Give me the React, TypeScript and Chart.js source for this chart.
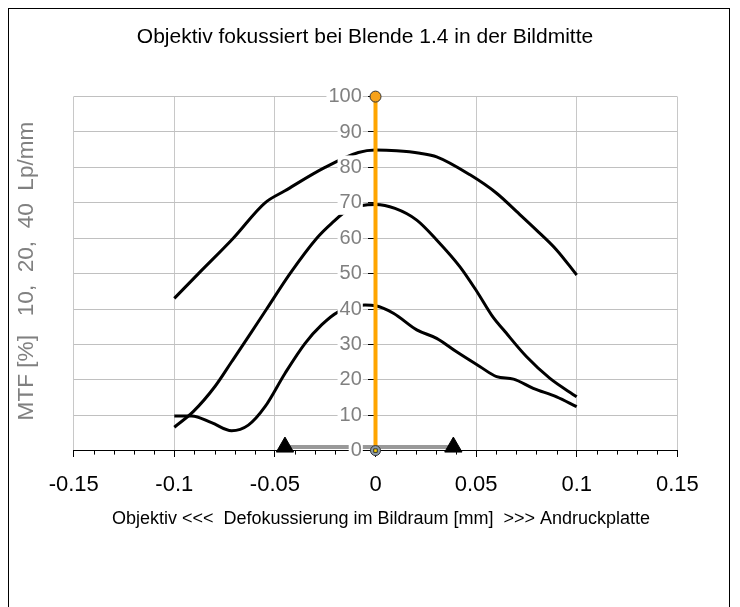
import React, { useEffect, useRef } from "react";
import { Chart, registerables } from "chart.js";

Chart.register(...registerables);

const titleText = "Objektiv fokussiert bei Blende 1.4 in der Bildmitte";
const xTitleText = "Objektiv <<<  Defokussierung im Bildraum [mm]  >>> Andruckplatte";
const yTitleText = "MTF [%]   10,  20,  40  Lp/mm";

const xMin = -0.15;
const xMax = 0.15;
const xStep = 0.05;
const xMinorStep = 0.01;
const yMin = 0;
const yMax = 100;
const yStep = 10;
// y tick labels sit slightly left of the y axis at x = 0
const yLabelAxisX = -0.0068;

// 10 Lp/mm
const topX = [-0.1, -0.088, -0.0707, -0.0549, -0.045, -0.0251, -0.0085, 0, 0.0105, 0.0221, 0.0304, 0.047, 0.0602, 0.0702, 0.08, 0.09, 0.1];
const topY = [43.0, 50.0, 60.0, 70.0, 73.4, 80.0, 84.2, 84.9, 84.7, 84.0, 83.0, 77.9, 72.7, 67.5, 62.3, 56.7, 49.6];

// 20 Lp/mm
const midX = [-0.1, -0.0906, -0.0798, -0.0715, -0.0615, -0.0541, -0.0425, -0.0292, -0.0218, -0.0135, 0, 0.0097, 0.0205, 0.0304, 0.042, 0.0503, 0.0585, 0.0635, 0.0751, 0.0867, 0.1];
const midY = [6.6, 11.0, 18.1, 25.1, 33.6, 40.0, 50.0, 60.0, 64.2, 68.0, 69.5, 68.4, 65.1, 59.5, 51.9, 45.0, 37.6, 34.2, 26.5, 20.4, 15.2];

// 40 Lp/mm
const botX = [-0.1, -0.0914, -0.0815, -0.0715, -0.0632, -0.0549, -0.045, -0.035, -0.0268, -0.0185, -0.0052, 0, 0.0089, 0.0205, 0.0304, 0.0403, 0.052, 0.0602, 0.0686, 0.0784, 0.09, 0.1];
const botY = [9.8, 9.8, 7.9, 5.6, 7.2, 12.4, 21.8, 30.3, 35.5, 39.2, 41.1, 40.9, 38.8, 34.1, 31.7, 27.9, 23.7, 20.9, 20.2, 17.6, 15.2, 12.4];

// focus marker (orange vertical)
const focusX = [0, 0];
const focusY = [0, 100];

// depth of focus range
const rangeX = [-0.045, 0.0387];
const rangeY = [1, 1];

const FONT = "'Liberation Sans', Arial, sans-serif";

const toPts = (xs: number[], ys: number[]) => xs.map((x, i) => ({ x, y: ys[i] }));

const textPlugin = {
  id: "customText",
  beforeDatasetsDraw(chart: any) {
    const ctx = chart.ctx;
    const xs = chart.scales.x;
    const ys = chart.scales.y;
    const y0 = ys.getPixelForValue(0);
    ctx.save();
    ctx.strokeStyle = "#000";
    ctx.lineWidth = 1;
    const n = Math.round((xMax - xMin) / xMinorStep);
    const per = Math.round(xStep / xMinorStep);
    for (let i = 0; i <= n; i++) {
      if (i % per === 0) continue;
      const v = xMin + i * xMinorStep;
      const px = Math.round(xs.getPixelForValue(v)) + 0.5;
      ctx.beginPath();
      ctx.moveTo(px, y0);
      ctx.lineTo(px, y0 + 4);
      ctx.stroke();
    }
    ctx.restore();
  },
  afterDraw(chart: any) {
    const ctx = chart.ctx;
    ctx.save();
    ctx.fillStyle = "#000";
    ctx.textAlign = "center";
    ctx.textBaseline = "middle";
    ctx.font = `21px ${FONT}`;
    ctx.fillText(titleText, 356, 28);
    ctx.font = `18px ${FONT}`;
    ctx.fillText(xTitleText, 372, 510);
    ctx.translate(18, 262);
    ctx.rotate(-Math.PI / 2);
    ctx.fillStyle = "#808080";
    ctx.font = `22.6px ${FONT}`;
    ctx.fillText(yTitleText, 0, 0);
    ctx.restore();
  },
};

export default function App() {
  const ref = useRef<HTMLCanvasElement | null>(null);
  useEffect(() => {
    if (!ref.current) return;
    const curve = (xs: number[], ys: number[]) => ({
      data: toPts(xs, ys),
      showLine: true,
      borderColor: "#000",
      borderWidth: 3,
      pointRadius: 0,
      cubicInterpolationMode: "monotone" as const,
      fill: false,
    });
    const chart = new Chart(ref.current, {
      type: "scatter",
      data: {
        datasets: [
          {
            data: [{ x: focusX[0], y: focusY[0] }],
            pointStyle: "rect",
            pointRadius: 2.5,
            backgroundColor: "#FFD700",
            borderColor: "#333",
            borderWidth: 1,
            clip: false,
          },
          {
            data: [{ x: focusX[0], y: focusY[0] }],
            pointStyle: "circle",
            pointRadius: 5,
            backgroundColor: "#8a9aa8",
            borderColor: "#333",
            borderWidth: 1,
            clip: false,
          },
          {
            data: toPts(focusX, focusY),
            showLine: true,
            borderColor: "#FFA500",
            borderWidth: 4,
            pointRadius: [0, 5.5],
            pointBackgroundColor: "#F7A21B",
            pointBorderColor: "#333",
            pointBorderWidth: 1,
            clip: false,
          },
          {
            data: toPts(rangeX, rangeY),
            showLine: true,
            borderColor: "#999",
            borderWidth: 4,
            pointStyle: "triangle",
            pointRadius: 10,
            pointBackgroundColor: "#000",
            pointBorderColor: "#000",
            pointBorderWidth: 1,
            clip: false,
          },
          curve(topX, topY),
          curve(midX, midY),
          curve(botX, botY),
        ] as any,
      },
      options: {
        animation: false,
        responsive: false,
        events: [],
        layout: { padding: { left: 64.7, right: 51.7, top: 87.6, bottom: 156.4 } },
        plugins: { legend: { display: false }, tooltip: { enabled: false }, title: { display: false } },
        scales: {
          x: {
            type: "linear",
            position: { y: 0 } as any,
            min: xMin,
            max: xMax,
            ticks: {
              stepSize: xStep,
              color: "#000",
              font: { family: FONT, size: 22 },
              padding: 15,
              maxRotation: 0,
              autoSkip: false,
              callback: (v: any) => String(Math.round(Number(v) * 100) / 100),
            },
            grid: { color: "#c8c8c8", lineWidth: 1, tickColor: "#000", tickLength: 6, drawTicks: true },
            border: { color: "#000", width: 1 },
          },
          y: {
            type: "linear",
            position: { x: 0 } as any,
            min: yMin,
            max: yMax,
            ticks: { stepSize: yStep, display: false },
            grid: { color: "#c0c0c0", lineWidth: 1, tickColor: "#000", tickLength: 7 },
            border: { color: "#000", width: 1 },
          },
          yLabels: {
            type: "linear",
            axis: "y",
            position: { x: yLabelAxisX } as any,
            min: yMin,
            max: yMax,
            ticks: {
              stepSize: yStep,
              color: "#808080",
              font: { family: FONT, size: 20 },
              z: 1,
              showLabelBackdrop: true,
              backdropColor: "#fff",
              backdropPadding: { top: 0, bottom: 0, left: 2, right: 1 },
            },
            grid: { display: false, drawTicks: false },
            border: { display: false },
          } as any,
        },
      },
      plugins: [textPlugin],
    });
    return () => chart.destroy();
  }, []);
  return (
    <div style={{ border: "1px solid #000", width: 720, height: 600, background: "#fff" }}>
      <canvas ref={ref} width={720} height={598} style={{ display: "block" }} />
    </div>
  );
}
